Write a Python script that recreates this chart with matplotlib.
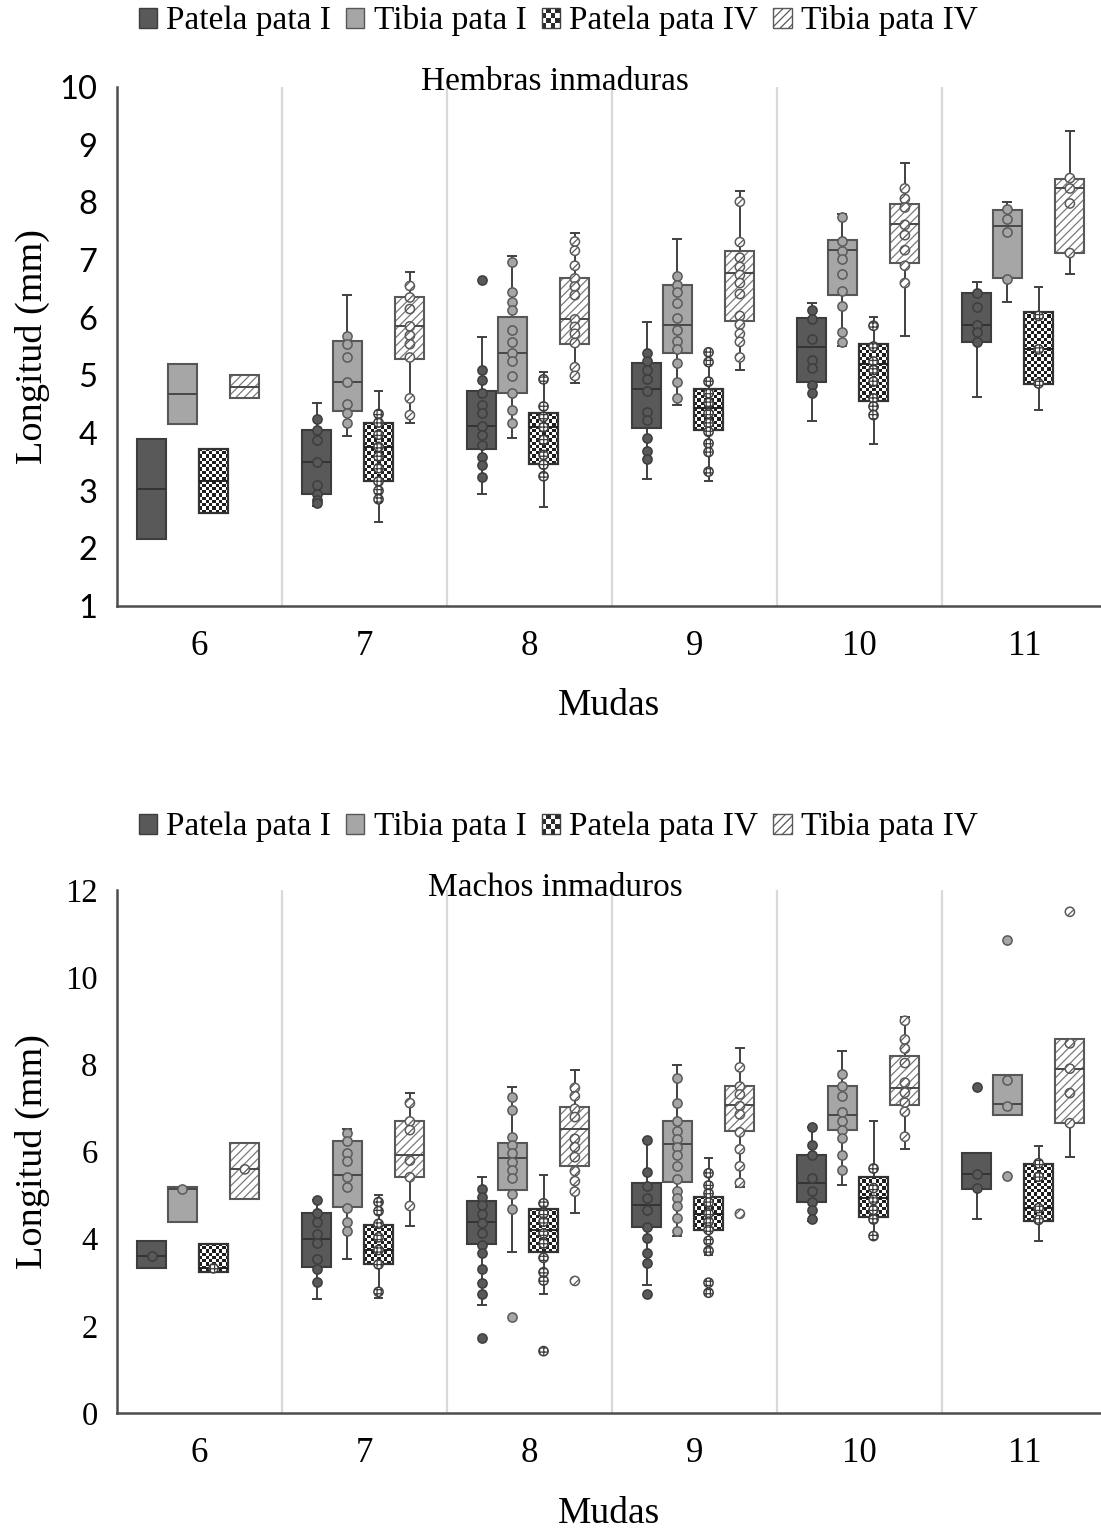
import numpy as np
import matplotlib
matplotlib.use("Agg")
import matplotlib.pyplot as plt
from matplotlib.patches import Rectangle, Patch
from matplotlib.legend_handler import HandlerBase

# ---------------------------------------------------------------------------
# Data: molt number on x, segment length (mm) on y
# Box tuples are (whisker_low, q1, median, q3, whisker_high)
# ---------------------------------------------------------------------------
MUDAS = [6, 7, 8, 9, 10, 11]
SERIES = ["Patela pata I", "Tibia pata I", "Patela pata IV", "Tibia pata IV"]

# Hembras inmaduras
HEM_PAT_I_BOX = [(2.17, 2.17, 3.03, 3.89, 3.89), (2.73, 2.94, 3.49, 4.05, 4.52),
                 (2.95, 3.73, 4.13, 4.72, 5.66), (3.21, 4.08, 4.76, 5.21, 5.93),
                 (4.21, 4.89, 5.50, 5.99, 6.25), (4.62, 5.57, 5.88, 6.43, 6.62)]
HEM_PAT_I_PTS = [[],
                 [4.24, 4.05, 3.87, 3.49, 3.09, 2.95, 2.84, 2.78],
                 [6.65, 5.09, 4.92, 4.70, 4.48, 4.34, 4.12, 3.97, 3.79, 3.59, 3.45, 3.24],
                 [5.38, 5.24, 5.09, 4.94, 4.72, 4.37, 4.23, 3.91, 3.69, 3.55],
                 [6.13, 5.98, 5.63, 5.27, 5.12, 4.83, 4.70],
                 [6.43, 6.19, 5.88, 5.75, 5.57]]

HEM_TIB_I_BOX = [(4.15, 4.15, 4.68, 5.19, 5.19), (3.95, 4.38, 4.88, 5.60, 6.39),
                 (3.91, 4.70, 5.39, 6.02, 7.07), (4.48, 5.39, 5.87, 6.57, 7.37),
                 (5.51, 6.39, 7.17, 7.35, 7.79), (6.27, 6.68, 7.59, 7.87, 8.00)]
HEM_TIB_I_PTS = [[],
                 [5.68, 5.54, 5.31, 4.88, 4.50, 4.34, 4.17],
                 [6.96, 6.45, 6.28, 6.13, 5.79, 5.57, 5.39, 5.24, 4.99, 4.70, 4.40, 4.18],
                 [6.72, 6.57, 6.45, 6.26, 6.00, 5.79, 5.60, 5.46, 5.21, 4.88, 4.60],
                 [7.75, 7.33, 7.16, 7.02, 6.76, 6.47, 6.20, 5.76, 5.57],
                 [7.88, 7.71, 7.49, 6.67]]

HEM_PAT_IV_BOX = [(2.61, 2.61, 3.17, 3.73, 3.73), (2.45, 3.16, 3.76, 4.18, 4.73),
                  (2.72, 3.47, 4.10, 4.34, 5.06), (3.17, 4.06, 4.43, 4.76, 5.42),
                  (3.81, 4.56, 5.20, 5.54, 6.01), (4.40, 4.85, 5.46, 6.10, 6.53)]
HEM_PAT_IV_PTS = [[],
                  [4.33, 4.18, 3.97, 3.76, 3.59, 3.39, 3.16, 3.00, 2.85],
                  [4.93, 4.46, 4.28, 4.10, 3.88, 3.62, 3.45, 3.25],
                  [5.40, 5.23, 4.89, 4.69, 4.52, 4.34, 4.17, 4.02, 3.82, 3.67, 3.33],
                  [5.86, 5.50, 5.24, 5.09, 4.89, 4.60, 4.46, 4.31],
                  [6.03, 5.45, 4.86]]

HEM_TIB_IV_BOX = [(4.60, 4.60, 4.80, 5.01, 5.01), (4.17, 5.29, 5.85, 6.35, 6.80),
                  (4.86, 5.54, 5.97, 6.68, 7.47), (5.09, 5.95, 6.78, 7.16, 8.20),
                  (5.68, 6.94, 7.62, 7.97, 8.69), (6.75, 7.12, 8.24, 8.40, 9.24)]
HEM_TIB_IV_PTS = [[],
                  [6.55, 6.35, 6.15, 5.85, 5.69, 5.54, 5.31, 4.60, 4.31],
                  [7.32, 7.16, 6.90, 6.68, 6.54, 6.39, 5.97, 5.84, 5.72, 5.56, 5.14, 4.99],
                  [8.01, 7.31, 7.04, 6.88, 6.74, 6.60, 6.41, 6.03, 5.88, 5.72, 5.58, 5.31],
                  [8.24, 8.06, 7.91, 7.61, 7.43, 7.17, 6.90, 6.60],
                  [8.42, 8.24, 7.98, 7.12]]

# Machos inmaduros
MAC_PAT_I_BOX = [(3.33, 3.33, 3.60, 3.95, 3.95), (2.61, 3.36, 3.99, 4.58, 4.89),
                 (2.48, 3.88, 4.38, 4.87, 5.42), (2.94, 4.27, 4.77, 5.28, 6.26),
                 (4.41, 4.84, 5.27, 5.91, 6.57), (4.46, 5.13, 5.48, 5.96, 5.96)]
MAC_PAT_I_PTS = [[3.60],
                 [4.89, 4.58, 4.38, 4.10, 3.91, 3.54, 3.30, 3.00],
                 [5.13, 4.96, 4.77, 4.57, 4.35, 4.12, 3.85, 3.66, 3.30, 2.99, 2.73, 1.73],
                 [6.26, 5.52, 5.21, 4.94, 4.66, 4.27, 4.02, 3.68, 3.45, 2.73],
                 [6.57, 6.15, 5.91, 5.40, 5.10, 4.85, 4.66, 4.46],
                 [7.49, 5.48, 5.16]]

MAC_TIB_I_BOX = [(4.38, 4.38, 5.15, 5.19, 5.19), (3.54, 4.72, 5.45, 6.23, 6.51),
                 (3.70, 5.11, 5.84, 6.20, 7.48), (4.06, 5.31, 6.17, 6.70, 7.98),
                 (5.22, 6.49, 6.83, 7.50, 8.31), (6.83, 6.83, 7.08, 7.76, 7.76)]
MAC_TIB_I_PTS = [[5.13],
                 [6.43, 6.23, 5.97, 5.79, 5.42, 5.19, 4.70, 4.38, 4.17],
                 [7.24, 6.95, 6.33, 6.15, 5.96, 5.77, 5.58, 5.40, 5.03, 4.69, 2.21],
                 [7.69, 7.12, 6.70, 6.46, 6.28, 6.10, 5.91, 5.67, 5.38, 5.10, 4.93, 4.75, 4.48, 4.18],
                 [7.77, 7.50, 7.28, 6.90, 6.71, 6.49, 6.31, 5.91, 5.58],
                 [10.85, 7.63, 7.04, 5.44]]

MAC_PAT_IV_BOX = [(3.23, 3.23, 3.32, 3.88, 3.88), (2.63, 3.43, 3.74, 4.32, 5.00),
                  (2.73, 3.69, 4.20, 4.68, 5.45), (3.63, 4.19, 4.57, 4.95, 5.84),
                  (4.05, 4.50, 4.93, 5.42, 6.71), (3.95, 4.41, 4.70, 5.71, 6.13)]
MAC_PAT_IV_PTS = [[3.32],
                  [4.84, 4.63, 4.34, 4.03, 3.74, 3.41, 2.78],
                  [4.81, 4.58, 4.39, 4.12, 3.89, 3.56, 3.23, 3.04, 1.42],
                  [5.50, 5.22, 5.04, 4.83, 4.58, 4.39, 4.20, 3.95, 3.72, 2.99, 2.76],
                  [5.61, 5.16, 4.89, 4.66, 4.44, 4.06],
                  [5.73, 5.42, 4.70, 4.43]]

MAC_TIB_IV_BOX = [(4.92, 4.92, 5.59, 6.20, 6.20), (4.28, 5.42, 5.91, 6.69, 7.35),
                  (4.58, 5.67, 6.51, 7.03, 7.86), (5.19, 6.47, 7.06, 7.50, 8.37),
                  (6.05, 7.06, 7.45, 8.18, 9.09), (5.87, 6.65, 7.90, 8.58, 8.58)]
MAC_TIB_IV_PTS = [[5.59],
                  [7.11, 6.69, 6.49, 5.79, 5.41, 4.75],
                  [7.46, 7.27, 6.98, 6.79, 6.29, 6.10, 5.87, 5.55, 5.32, 5.08, 3.03],
                  [7.93, 7.49, 7.31, 7.04, 6.85, 6.44, 6.05, 5.66, 5.28, 4.57],
                  [9.00, 8.57, 8.36, 8.03, 7.58, 7.35, 7.12, 6.91, 6.34],
                  [11.50, 8.48, 7.90, 7.34, 6.65]]

# ---------------------------------------------------------------------------
# Styling
# ---------------------------------------------------------------------------
SERIF = ["Liberation Serif", "DejaVu Serif"]
SANS = ["Lato", "DejaVu Sans"]

OFFSETS = [-0.29, -0.105, 0.085, 0.275]
BOX_W = 0.176
CAP_W = 0.06

STYLES = [
    dict(kind="solid", face="#595959", edge="#3d3d3d", med="#333333",
         pt_face="#595959", pt_edge="#3d3d3d", pt_hatch=None),
    dict(kind="solid", face="#a6a6a6", edge="#575757", med="#474747",
         pt_face="#a6a6a6", pt_edge="#5a5a5a", pt_hatch=None),
    dict(kind="checker", face="white", edge="#333333", med="#1f1f1f",
         pt_face="white", pt_edge="#3d3d3d", pt_hatch="++++"),
    dict(kind="hatch", face="white", edge="#595959", med="#474747",
         pt_face="white", pt_edge="#5a5a5a", pt_hatch="////"),
]

plt.rcParams["hatch.linewidth"] = 0.9


def checker_array(ncols, nrows):
    ii, jj = np.indices((nrows, ncols))
    return ((ii + jj) % 2).astype(float) * 0.88 + 0.12


class CheckerHandler(HandlerBase):
    def create_artists(self, legend, orig_handle, xdescent, ydescent,
                       width, height, fontsize, trans):
        n = 4
        cw, ch = width / n, height / n
        arts = []
        for i in range(n):
            for j in range(n):
                col = "#2b2b2b" if (i + j) % 2 == 0 else "white"
                arts.append(Rectangle((-xdescent + i * cw, -ydescent + j * ch), cw, ch,
                                      facecolor=col, edgecolor="none", transform=trans))
        arts.append(Rectangle((-xdescent, -ydescent), width, height, facecolor="none",
                              edgecolor="#404040", lw=1.0, transform=trans))
        return arts


class CheckerKey(Patch):
    pass


def draw_panel(ax, boxes, points, ylim, yticks, ytick_family, xtick_family):
    ax.set_xlim(5.5, 5.5 + 984 / 165)
    ax.set_ylim(*ylim)
    # category separators
    for xb in np.arange(6.5, 11.0, 1.0):
        ax.axvline(xb, color="#d9d9d9", lw=1.6, zorder=0)

    px_per_y = ax.transData.transform((0, 1))[1] - ax.transData.transform((0, 0))[1]
    px_per_x = ax.transData.transform((1, 0))[0] - ax.transData.transform((0, 0))[0]

    for s, (bx_list, pt_list) in enumerate(zip(boxes, points)):
        st = STYLES[s]
        for i, (lo, q1, med, q3, hi) in enumerate(bx_list):
            xc = MUDAS[i] + OFFSETS[s]
            x0 = xc - BOX_W / 2
            # whiskers and caps
            if hi > q3 + 1e-9:
                ax.vlines(xc, q3, hi, color="#404040", lw=1.4, zorder=2)
                ax.hlines(hi, xc - CAP_W / 2, xc + CAP_W / 2, color="#404040", lw=1.4, zorder=2)
            if lo < q1 - 1e-9:
                ax.vlines(xc, lo, q1, color="#404040", lw=1.4, zorder=2)
                ax.hlines(lo, xc - CAP_W / 2, xc + CAP_W / 2, color="#404040", lw=1.4, zorder=2)
            # box body
            if st["kind"] == "solid":
                ax.add_patch(Rectangle((x0, q1), BOX_W, q3 - q1, facecolor=st["face"],
                                       edgecolor=st["edge"], lw=1.5, zorder=3))
            elif st["kind"] == "checker":
                ncols = 9
                cell = BOX_W * px_per_x / ncols
                nrows = max(1, int(round((q3 - q1) * px_per_y / cell)))
                ax.imshow(checker_array(ncols, nrows), cmap="gray", vmin=0, vmax=1,
                          extent=(x0, x0 + BOX_W, q1, q3), aspect="auto",
                          interpolation="nearest", zorder=3)
                ax.add_patch(Rectangle((x0, q1), BOX_W, q3 - q1, facecolor="none",
                                       edgecolor=st["edge"], lw=1.6, zorder=3.1))
            else:
                ax.add_patch(Rectangle((x0, q1), BOX_W, q3 - q1, facecolor="white",
                                       edgecolor="#7a7a7a", hatch="////", lw=0, zorder=3))
                ax.add_patch(Rectangle((x0, q1), BOX_W, q3 - q1, facecolor="none",
                                       edgecolor=st["edge"], lw=1.5, zorder=3.1))
            ax.hlines(med, x0, x0 + BOX_W, color=st["med"], lw=1.4, zorder=3.2)
            # individual measurements
            vals = pt_list[i]
            if vals:
                kw = dict(s=44, facecolors=st["pt_face"], edgecolors=st["pt_edge"],
                          linewidths=1.1, zorder=4)
                if st["pt_hatch"]:
                    kw["hatch"] = st["pt_hatch"]
                ax.scatter([xc] * len(vals), vals, **kw)

    for side in ("top", "right"):
        ax.spines[side].set_visible(False)
    for side in ("left", "bottom"):
        ax.spines[side].set_color("#4d4d4d")
        ax.spines[side].set_linewidth(1.8)
        ax.spines[side].set_zorder(5)

    ax.set_xticks(MUDAS)
    ax.set_xticklabels([str(m) for m in MUDAS], fontfamily=xtick_family, fontsize=25)
    ax.set_yticks(yticks)
    ax.set_yticklabels([str(t) for t in yticks], fontfamily=ytick_family, fontsize=23.5)
    ax.tick_params(axis="x", length=0, pad=17)
    ax.tick_params(axis="y", length=0, pad=14)

    ax.set_ylabel("Longitud (mm)", fontfamily=SERIF, fontsize=27.5)
    ax.yaxis.set_label_coords(-0.068, 0.5)
    ax.text(0.5, -0.193, "Mudas", transform=ax.transAxes, ha="center", va="center",
            fontfamily=SERIF, fontsize=27)


def add_legend(fig, y):
    handles = [Patch(facecolor="#595959", edgecolor="#3d3d3d"),
               Patch(facecolor="#a6a6a6", edgecolor="#575757"),
               CheckerKey(facecolor="white", edgecolor="#404040"),
               Patch(facecolor="white", edgecolor="#595959", hatch="////")]
    fig.legend(handles, SERIES, loc="center", bbox_to_anchor=(0.507, y),
               ncol=4, frameon=False, prop={"family": SERIF, "size": 24},
               handlelength=0.55, handleheight=0.55, handletextpad=0.28,
               columnspacing=0.45, handler_map={CheckerKey: CheckerHandler()})


fig = plt.figure(figsize=(11.01, 15.29), dpi=100)
W, H = 1101.0, 1529.0

ax1 = fig.add_axes([117 / W, 1 - 606 / H, 984 / W, (606 - 87) / H])
draw_panel(ax1,
           [HEM_PAT_I_BOX, HEM_TIB_I_BOX, HEM_PAT_IV_BOX, HEM_TIB_IV_BOX],
           [HEM_PAT_I_PTS, HEM_TIB_I_PTS, HEM_PAT_IV_PTS, HEM_TIB_IV_PTS],
           (1, 10), list(range(1, 11)), SANS, SERIF)
fig.text(555 / W, 1 - 82 / H, "Hembras inmaduras", ha="center", va="center",
         fontfamily=SERIF, fontsize=24)
add_legend(fig, 1 - 21 / H)

ax2 = fig.add_axes([117 / W, 1 - 1413 / H, 984 / W, (1413 - 890) / H])
draw_panel(ax2,
           [MAC_PAT_I_BOX, MAC_TIB_I_BOX, MAC_PAT_IV_BOX, MAC_TIB_IV_BOX],
           [MAC_PAT_I_PTS, MAC_TIB_I_PTS, MAC_PAT_IV_PTS, MAC_TIB_IV_PTS],
           (0, 12), list(range(0, 13, 2)), SERIF, SERIF)
fig.text(555 / W, 1 - 888 / H, "Machos inmaduros", ha="center", va="center",
         fontfamily=SERIF, fontsize=24)
add_legend(fig, 1 - 827 / H)

fig.savefig("out.png", dpi=100, facecolor="white")
